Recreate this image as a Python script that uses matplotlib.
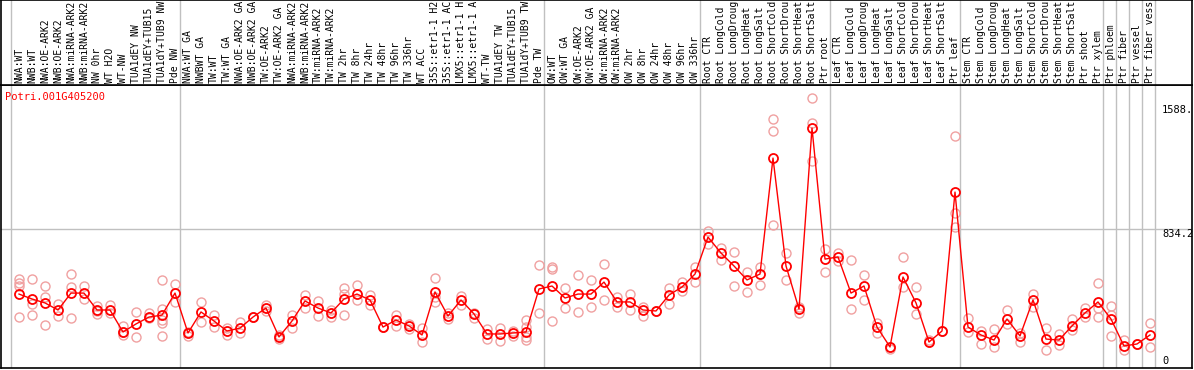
import matplotlib

matplotlib.use('agg')
import matplotlib.pyplot as plt

gene = "Potri.001G405200"

labels = [
    "NWA:WT", "NWB:WT", "NWA:OE-ARK2", "NWB:OE-ARK2", "NWA:miRNA-ARK2", "NWB:miRNA-ARK2",
    "NW 0hr", "WT H2O", "WT-NW", "TUA1dEY NW", "TUA1dEY+TUB15", "TUA1dY+TUB9 NW", "Pde NW",
    "NWA:WT GA", "NWBWT GA", "TW:WT", "TW:WT GA", "NWA:OE-ARK2 GA", "NWB:OE-ARK2 GA",
    "TW:OE-ARK2", "TW:OE-ARK2 GA", "NWA:miRNA-ARK2", "NWB:miRNA-ARK2", "TW:miRNA-ARK2",
    "TW:miRNA-ARK2", "TW 2hr", "TW 8hr", "TW 24hr", "TW 48hr", "TW 96hr", "TW 336hr",
    "WT ACC", "35S::etr1-1 H2O", "35S::etr1-1 ACC", "LMX5::etr1-1 H2O", "LMX5::etr1-1 ACC",
    "WT-TW", "TUA1dEY TW", "TUA1dEY+TUB15", "TUA1dY+TUB9 TW", "Pde TW",
    "OW:WT", "OW:WT GA", "OW:OE-ARK2", "OW:OE-ARK2 GA", "OW:miRNA-ARK2", "OW:miRNA-ARK2",
    "OW 2hr", "OW 8hr", "OW 24hr", "OW 48hr", "OW 96hr", "OW 336hr",
    "Root CTR", "Root LongCold", "Root LongDrought", "Root LongHeat", "Root LongSalt",
    "Root ShortCold", "Root ShortDrought", "Root ShortHeat", "Root ShortSalt", "Ptr root",
    "Leaf CTR", "Leaf LongCold", "Leaf LongDrought", "Leaf LongHeat", "Leaf LongSalt",
    "Leaf ShortCold", "Leaf ShortDrought", "Leaf ShortHeat", "Leaf ShortSalt", "Ptr leaf",
    "Stem CTR", "Stem LongCold", "Stem LongDrought", "Stem LongHeat", "Stem LongSalt",
    "Stem ShortCold", "Stem ShortDrought", "Stem ShortHeat", "Stem ShortSalt", "Ptr shoot",
    "Ptr xylem", "Ptr phloem", "Ptr fiber", "Ptr vessel", "Ptr fiber vessel",
]

group_sizes = [13, 28, 12, 10, 10, 11, 1, 1, 1, 1]

means = [
    435, 405, 381, 338, 441, 441, 338, 338, 204, 253, 295, 307, 441,
    198, 326, 271, 210, 228, 295, 350, 174, 271, 393, 350, 320, 405, 435, 399,
    234, 277, 241, 186, 448, 301, 399, 314, 192, 192, 198, 204, 466,
    484, 411, 435, 435, 508, 387, 387, 338, 332, 429, 478, 557,
    782, 685, 606, 521, 557, 1263, 606, 344, 1446, 648,
    661, 441, 484, 234, 113, 539, 381, 143, 210, 1056,
    234, 186, 155, 283, 180, 399, 161, 155, 241, 320, 387,
    283, 119, 131, 186,
]

reps = [
    [527, 502, 484, 295], [527, 374, 307], [484, 417, 247], [374, 301], [557, 478, 289],
    [484, 405], [362, 332, 314], [368, 320], [241, 204, 186], [326, 174], [320, 289],
    [521, 344, 277, 259, 180], [496, 387],
    [204, 180], [387, 265], [307, 234], [228, 186], [265, 198], [295, 295], [368, 332],
    [186, 161], [307, 228], [429, 350], [393, 301], [338, 295], [472, 435, 307], [490, 399],
    [429, 368], [234, 234], [307, 241], [253, 222], [228, 143], [533, 417, 387], [320, 283],
    [423, 368], [320, 289], [222, 161], [228, 149], [210, 180], [277, 234, 174, 155],
    [612, 320],
    [600, 588, 271], [472, 350], [551, 326], [521, 356], [618, 399], [417, 356], [435, 338],
    [356, 301], [332, 332], [472, 374], [508, 454], [600, 508],
    [819, 740], [715, 642], [691, 484], [569, 448], [600, 490], [1501, 1428, 855],
    [685, 521], [356, 320], [1629, 1477, 1245], [709, 569],
    [685, 636], [642, 344], [551, 399], [259, 198], [100, 113], [661, 478], [478, 314],
    [155, 143], [210, 210], [1397, 929, 843],
    [289, 204], [210, 131], [222, 113], [338, 253], [198, 143], [435, 356], [228, 94],
    [192, 125], [283, 216], [350, 295], [502, 350, 295],
    [362, 307, 180], [155, 94], [131, 131], [259, 113],
]

ticks = [0, 834.2, 1588.4]
tick_text = ["0", "834.2", "1588."]

W, H = 1194, 370
red = '#ff0000'
pale = '#f0a0a0'
grid = '#c0c0c0'
mono = 'DejaVu Sans Mono'

fig = plt.figure(figsize=(W / 100, H / 100), dpi=100)
xlim = (-18 / 13, 1173 / 13)
ylim = (-15.2, 1708)

ax = fig.add_axes([1 / W, 2 / H, 1191 / W, 283 / H])
lab = fig.add_axes([1 / W, 285 / H, 1191 / W, 85 / H])

for a in (ax, lab):
    a.set_xlim(xlim)
    a.set_xticks([])
    a.set_yticks([])
    for s in a.spines.values():
        s.set_color('black')
        s.set_linewidth(1.2)
lab.set_ylim(0, 1)
ax.set_ylim(ylim)

# group separators
b = 0
bounds = [0]
for g in group_sizes:
    b += g
    bounds.append(b)
for k in bounds:
    ax.axvline(k - 0.65, color=grid, lw=1, zorder=0)
    lab.axvline(k - 0.65, color=grid, lw=1, zorder=0)

ax.axhline(834.2, color=grid, lw=1, zorder=0)

x = list(range(len(means)))
for i, r in enumerate(reps):
    ax.plot([i] * len(r), r, 'o', mfc='none', mec=pale, ms=6.5, mew=1, zorder=2)
ax.plot(x, means, '-', color=red, lw=1, zorder=3)
ax.plot(x, means, 'o', mfc='none', mec=red, ms=6.5, mew=1.3, zorder=4)

# header column is only 14 characters tall, longer names get cut like the original
for i, t in enumerate(labels):
    lab.text(i, 0.02, t[:14], rotation=90, ha='center', va='bottom', fontsize=7.0,
             family=mono)

tx = (1162 - 19) / 13
ax.text(tx, ticks[0], tick_text[0], ha='left', va='bottom', fontsize=7.5, family=mono)
ax.text(tx, ticks[1], tick_text[1], ha='left', va='top', fontsize=7.5, family=mono)
ax.text(tx, ticks[2], tick_text[2], ha='left', va='top', fontsize=7.5, family=mono)

fig.text(5 / W, 1 - 97 / H, gene, color=red, fontsize=7.5, family=mono, va='center')

fig.savefig('out.png', dpi=100)
